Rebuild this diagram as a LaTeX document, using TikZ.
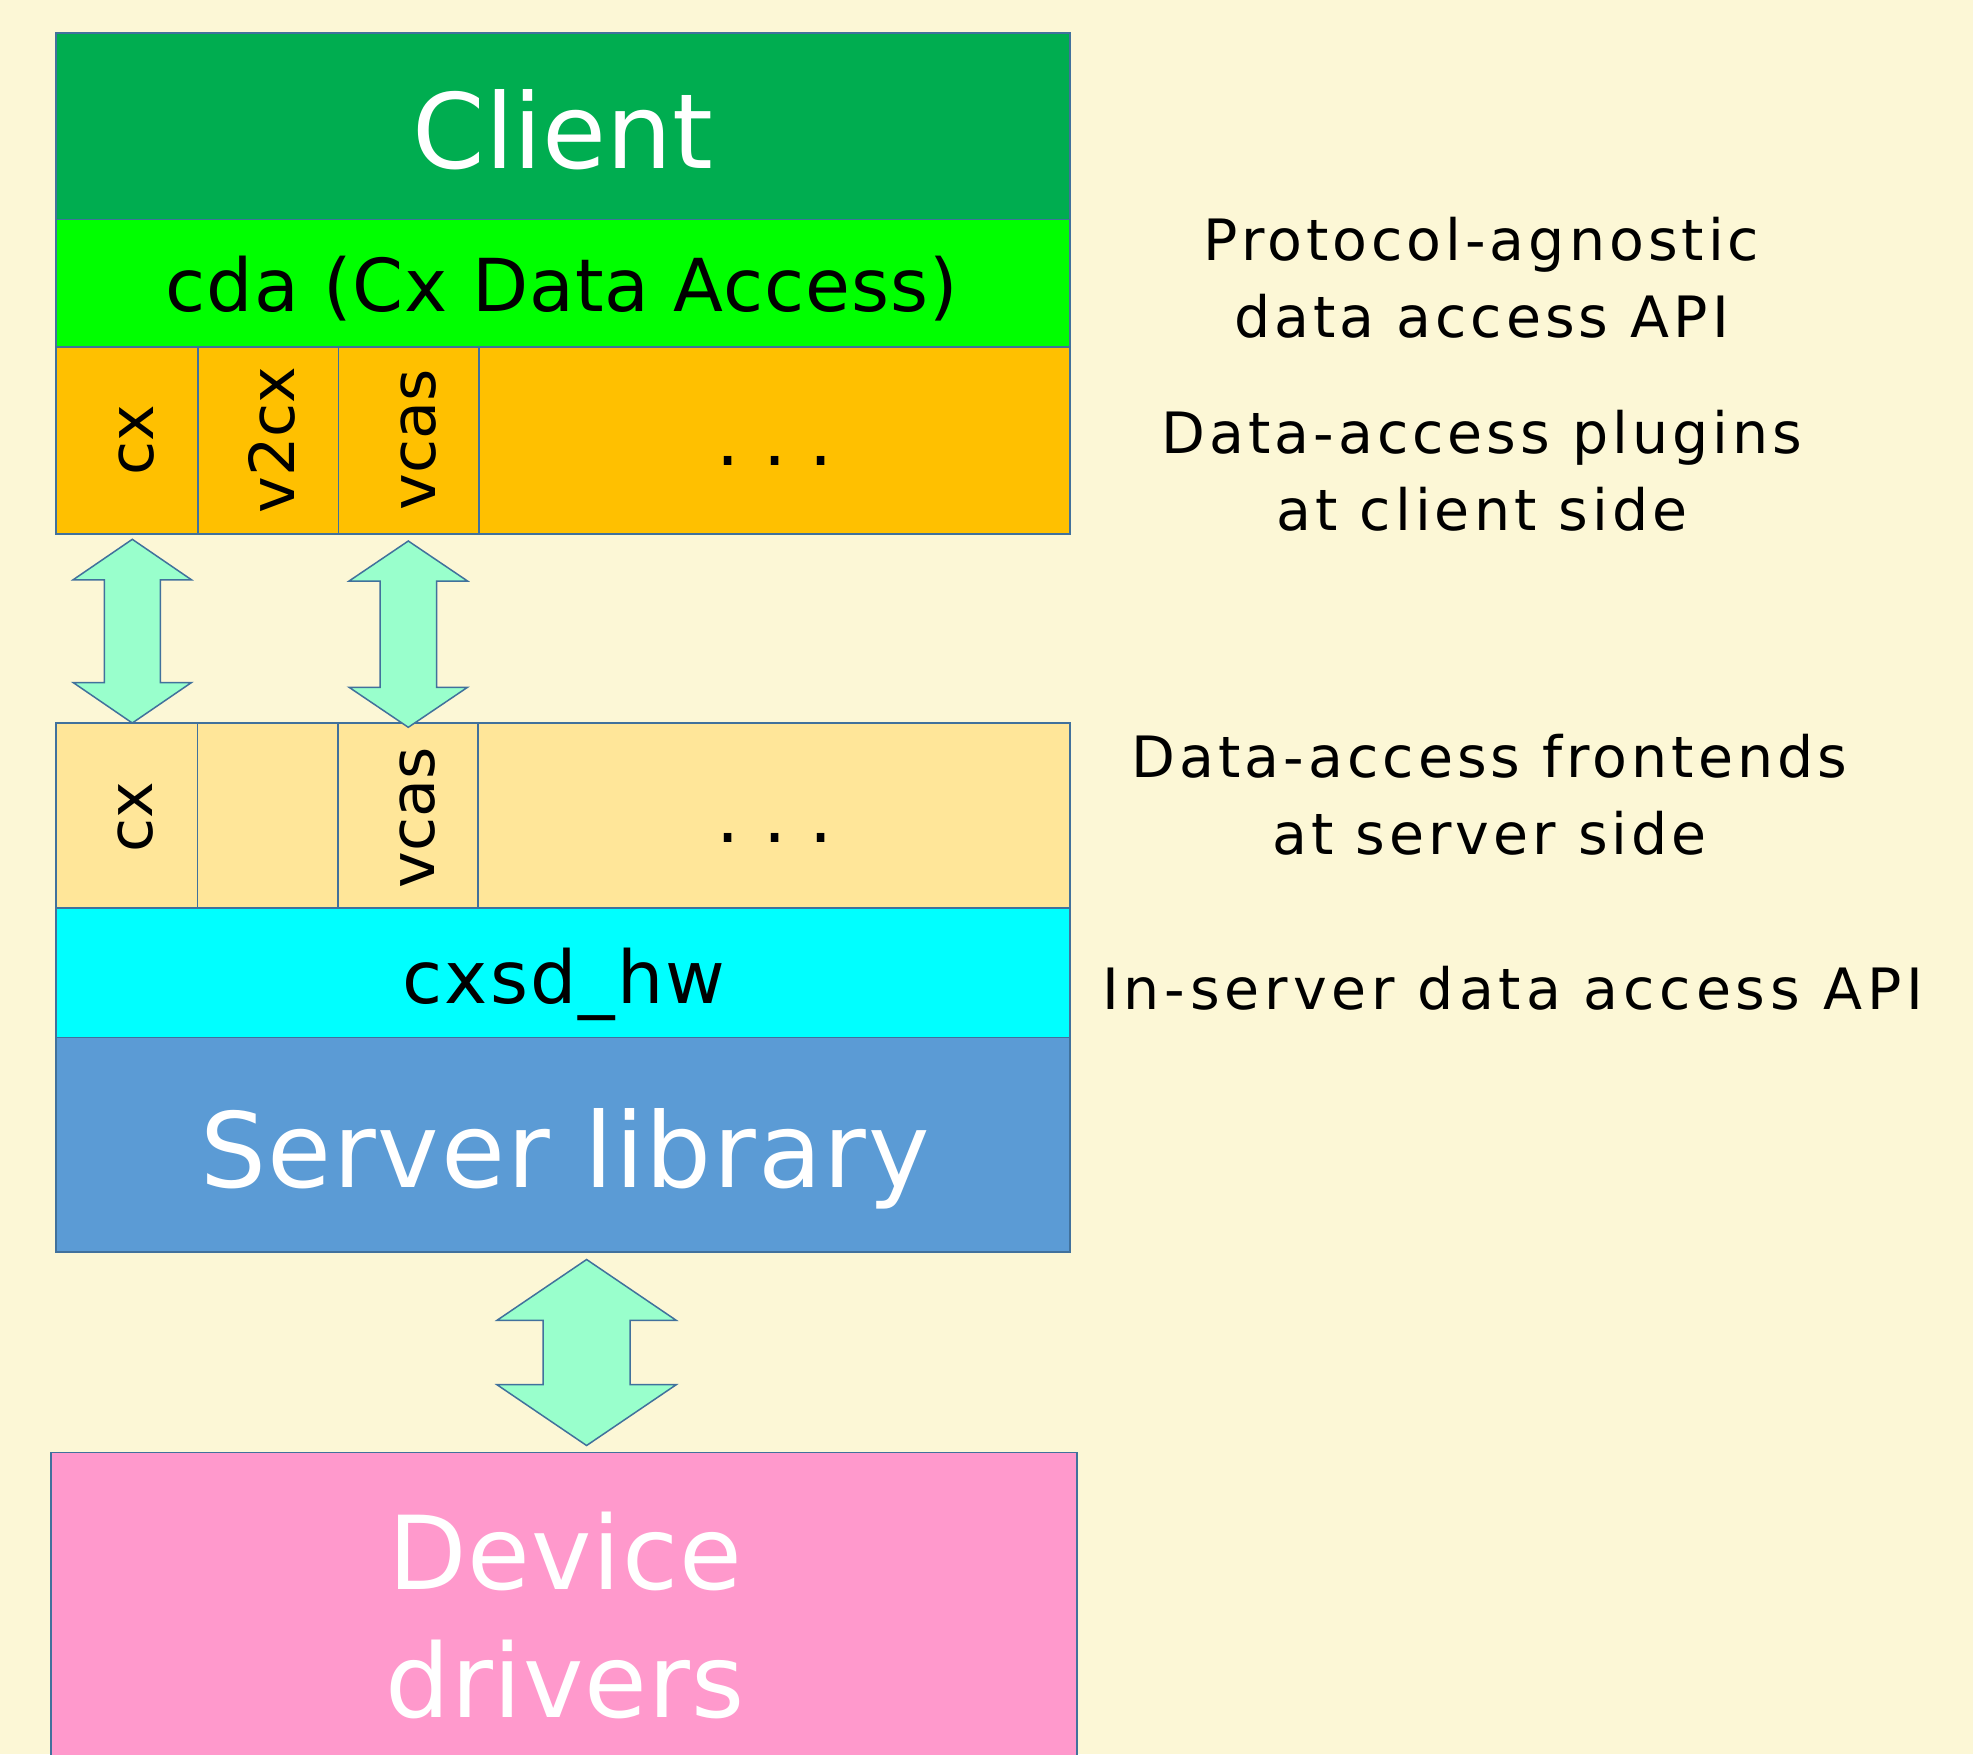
\documentclass[tikz,border=0pt]{standalone}
\usepackage{fontspec}
\setmainfont{DejaVu Sans}
\usetikzlibrary{calc}
\definecolor{bgc}{RGB}{252,247,214}
\definecolor{bord}{HTML}{41719C}
\definecolor{clientc}{HTML}{00AD50}
\definecolor{cdac}{HTML}{00FF00}
\definecolor{plugc}{HTML}{FFC000}
\definecolor{frontc}{HTML}{FFE699}
\definecolor{hwc}{HTML}{00FFFF}
\definecolor{srvc}{HTML}{5B9BD5}
\definecolor{devc}{HTML}{FF99CC}
\definecolor{arrc}{HTML}{99FFCC}
\newcommand\myfs[2]{\fontsize{#1}{#2}\selectfont}
\newcommand\fatarrow[7]{% #1 name, #2 cx, #3 ytop, #4 ybot, #5 half shaft, #6 half head, #7 head length
  \coordinate (#1-top) at (#2,#3);
  \coordinate (#1-bot) at (#2,#4);
  \draw[fatarrowstyle] (#1-top) -- (#2+#6,#3+#7) -- (#2+#5,#3+#7) -- (#2+#5,#4-#7) -- (#2+#6,#4-#7)
     -- (#1-bot) -- (#2-#6,#4-#7) -- (#2-#5,#4-#7) -- (#2-#5,#3+#7) -- (#2-#6,#3+#7) -- cycle;}
\begin{document}
\begin{tikzpicture}[x=1pt,y=-1pt,
  layer/.style={draw=bord, line width=1.7pt, rectangle, inner sep=0pt, outer sep=0pt, anchor=north west},
  txt/.style={inner sep=0pt, outer sep=0pt, anchor=base},
  rottxt/.style={txt, rotate=90, font=\myfs{62}{74}},
  dots/.style={txt, font=\myfs{73}{88}},
  side/.style={txt, align=center, font={\myfs{57}{77}\addfontfeature{LetterSpace=7}}},
  fatarrowstyle/.style={draw=bord, fill=arrc, line width=1.5pt, line join=miter}]
\useasboundingbox (0,0) rectangle (1973,1754);
\clip (0,0) rectangle (1973,1754);
\fill[bgc] (0,0) rectangle (1973,1754);

% client side stack
\node[layer, fill=clientc, minimum width=1014pt, minimum height=186.5pt] (client) at (56,33) {};
\node[layer, fill=cdac, minimum width=1014pt, minimum height=127.5pt] (cda) at (56,219.5) {};
\node[layer, fill=plugc, minimum width=142pt, minimum height=187pt] (pcx) at (56,347) {};
\node[layer, fill=plugc, minimum width=140.5pt, minimum height=187pt] (pv2) at (198,347) {};
\node[layer, fill=plugc, minimum width=140.5pt, minimum height=187pt] (pvc) at (338.5,347) {};
\node[layer, fill=plugc, minimum width=591pt, minimum height=187pt] (pdots) at (479,347) {};

% server side stack
\node[layer, fill=frontc, minimum width=141.5pt, minimum height=185pt] (fcx) at (56,723) {};
\node[layer, fill=frontc, minimum width=140.5pt, minimum height=185pt] (fempty) at (197.5,723) {};
\node[layer, fill=frontc, minimum width=140.5pt, minimum height=185pt] (fvc) at (338,723) {};
\node[layer, fill=frontc, minimum width=592pt, minimum height=185pt] (fdots) at (478,723) {};
\node[layer, fill=hwc, minimum width=1014pt, minimum height=129.5pt] (hw) at (56,908) {};
\node[layer, fill=srvc, minimum width=1014pt, minimum height=214.5pt] (srv) at (56,1037.5) {};
\node[layer, fill=devc, minimum width=1026pt, minimum height=400pt] (dev) at (51,1452.5) {};

% texts in boxes
\node[txt, font=\myfs{104}{125}, text=white] (client-t) at (563,168.3) {Client};
\node[txt, font={\myfs{73}{88}\addfontfeature{LetterSpace=1.4}}] (cda-t) at (562,311.5) {cda (Cx Data Access)};
\node[rottxt] (pcx-t) at (153.5,440) {cx};
\node[rottxt] (pv2-t) at (294,440) {v2cx};
\node[rottxt] (pvc-t) at (435,440) {vcas};
\node[dots] (pdots-t) at (775,465) {.\ .\ .};
\node[rottxt] (fcx-t) at (152.5,817.5) {cx};
\node[rottxt] (fvc-t) at (434.5,817.5) {vcas};
\node[dots] (fdots-t) at (775,842) {.\ .\ .};
\node[txt, font={\myfs{73}{88}\addfontfeature{LetterSpace=3}}] (hw-t) at (564,1003.3) {cxsd\_hw};
\node[txt, font={\myfs{104}{125}\addfontfeature{LetterSpace=1.7}}, text=white] (srv-t) at (565,1187) {Server library};
\node[txt, font={\myfs{102}{128}\addfontfeature{LetterSpace=1}}, text=white, align=center] (dev-t) at (565,1717) {Device\\drivers};

% side labels (anchor base = baseline of last line)
\node[side] (lab1) at (1481.5,337.4) {Protocol-agnostic\\data access API};
\node[side] (lab2) at (1482,530.4) {Data-access plugins\\at client side};
\node[side] (lab3) at (1489.5,854) {Data-access frontends\\at server side};
\node[side, font={\myfs{57}{77}\addfontfeature{LetterSpace=8.5}}] (lab4) at (1512.7,1009.6) {In-server data access API};

% double arrows
\fatarrow{a1}{132.3}{539.3}{723}{28}{59.2}{40.5}
\fatarrow{a2}{408.3}{541}{727.3}{28.3}{59.2}{40}
\fatarrow{a3}{586.6}{1259.5}{1445.5}{43.6}{89.6}{60.8}
\end{tikzpicture}
\end{document}
